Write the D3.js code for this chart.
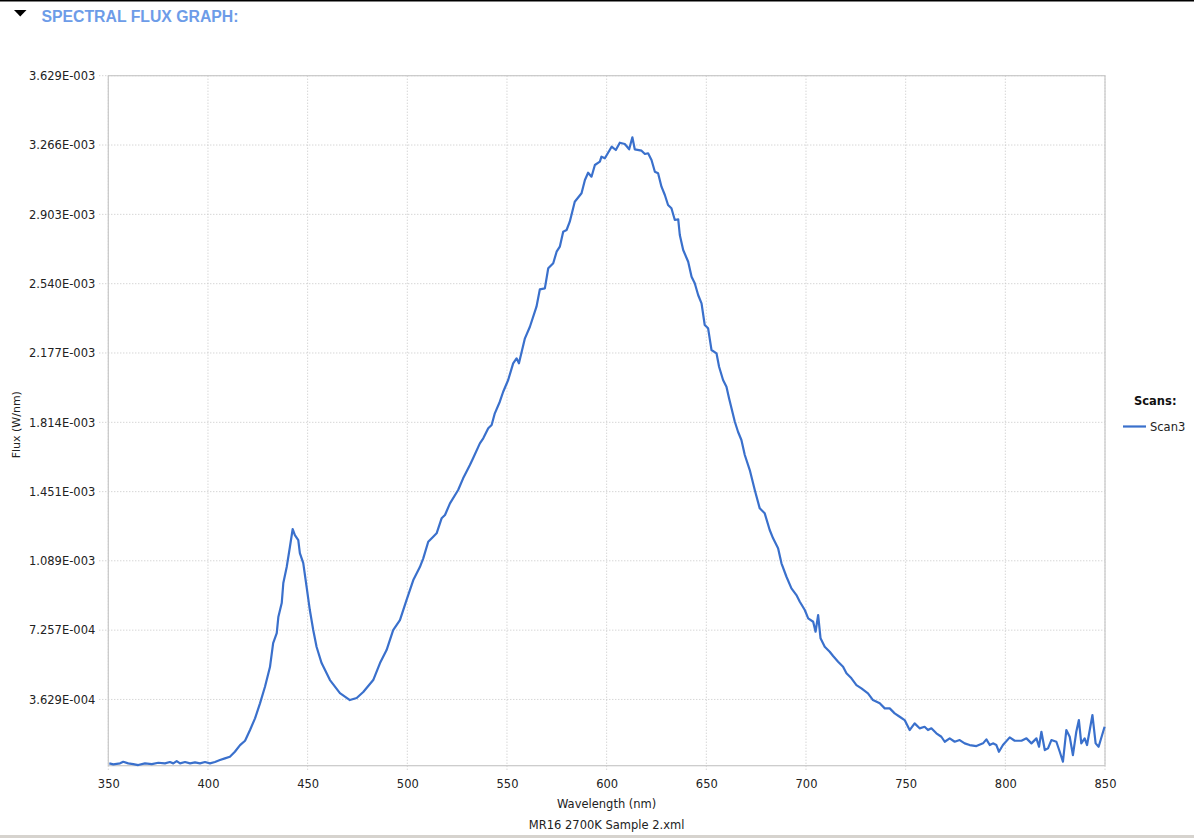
<!DOCTYPE html>
<html>
<head>
<meta charset="utf-8">
<script src="https://cdn.jsdelivr.net/npm/d3@7"></script>
<style>
  html, body { margin: 0; padding: 0; background: #fff; }
  svg { display: block; font-family: "DejaVu Sans", sans-serif; }
  .tick-label { font-size: 11px; fill: #222; }
</style>
</head>
<body>
<div id="chart"></div>
<script>
// Wavelength (nm) and flux (W/nm)
const wavelength = [
  350.5, 352.5, 355.9, 357.5, 360.0, 362.5, 365.0, 368.4, 371.8, 375.1,
  378.4, 380.9, 382.6, 384.3, 386.0, 388.5, 391.0, 393.5, 396.0, 398.5,
  401.0, 403.5, 406.0, 408.5, 411.0, 413.5, 416.1, 418.6, 421.1, 423.6,
  426.1, 428.6, 431.1, 432.7, 434.5, 435.3, 437.0, 437.8, 439.5, 441.1,
  442.5, 443.6, 445.3, 446.1, 447.8, 449.5, 451.1, 452.8, 454.5, 457.0,
  461.2, 466.2, 471.2, 474.6, 477.9, 482.9, 486.3, 489.6, 492.9, 496.3,
  499.6, 503.0, 506.3, 508.0, 510.5, 513.0, 514.7, 517.2, 518.9, 521.4,
  525.5, 528.0, 531.4, 533.0, 536.4, 538.1, 540.6, 542.3, 543.9, 546.4,
  548.1, 550.6, 553.1, 554.8, 556.0, 559.0, 561.5, 564.8, 566.5, 569.0,
  570.7, 573.2, 574.9, 576.5, 578.2, 579.9, 581.5, 584.0, 587.4, 589.1,
  590.7, 592.4, 594.1, 596.6, 597.4, 599.1, 602.5, 604.6, 606.6, 609.1,
  611.3, 612.9, 614.1, 617.5, 619.2, 620.8, 622.5, 624.2, 625.8, 627.5,
  629.2, 630.8, 632.5, 634.2, 635.9, 636.7, 638.4, 640.9, 642.6, 644.2,
  645.9, 647.6, 649.2, 650.9, 652.6, 655.1, 656.4, 658.4, 660.1, 661.4,
  664.3, 665.9, 667.6, 669.3, 671.8, 674.3, 676.8, 679.3, 681.8, 683.5,
  686.0, 687.7, 690.2, 692.7, 695.2, 696.9, 699.4, 701.1, 703.6, 704.8,
  706.1, 707.3, 709.4, 711.9, 713.6, 716.1, 718.6, 720.3, 722.8, 725.3,
  727.8, 731.1, 733.6, 737.0, 739.5, 742.0, 744.5, 747.0, 749.5, 752.0,
  754.5, 757.0, 759.5, 761.2, 762.9, 765.4, 767.9, 769.6, 772.1, 774.6,
  777.1, 779.6, 782.1, 785.5, 788.8, 790.5, 792.2, 793.8, 795.5, 796.8,
  798.8, 802.2, 804.7, 808.1, 810.6, 813.1, 815.6, 816.9, 818.1, 819.8,
  821.4, 823.1, 825.6, 827.3, 828.9, 830.6, 832.3, 833.9, 835.6, 836.9,
  838.1, 839.8, 841.0, 843.7, 845.3, 846.8, 849.8
];
const flux = [
  2.83e-5, 2.30e-5, 2.83e-5, 3.67e-5, 2.83e-5, 2.46e-5, 1.94e-5, 2.83e-5, 2.46e-5, 3.14e-5,
  2.83e-5, 3.51e-5, 2.83e-5, 4.03e-5, 2.83e-5, 3.51e-5, 2.83e-5, 3.35e-5, 2.83e-5, 3.51e-5,
  2.83e-5, 3.51e-5, 4.56e-5, 5.45e-5, 6.28e-5, 8.90e-5, 1.241e-4, 1.466e-4, 2.027e-4, 2.639e-4,
  3.425e-4, 4.294e-4, 5.326e-4, 6.583e-4, 7.106e-4, 7.944e-4, 8.677e-4, 9.725e-4, 1.0562e-3, 1.1610e-3,
  1.2552e-3, 1.2238e-3, 1.1976e-3, 1.1296e-3, 1.0772e-3, 9.515e-4, 8.311e-4, 7.263e-4, 6.373e-4, 5.535e-4,
  4.645e-4, 3.964e-4, 3.598e-4, 3.702e-4, 4.017e-4, 4.645e-4, 5.535e-4, 6.216e-4, 7.263e-4, 7.787e-4,
  8.834e-4, 9.882e-4, 1.0562e-3, 1.1018e-3, 1.1887e-3, 1.2149e-3, 1.2327e-3, 1.3113e-3, 1.3286e-3, 1.3898e-3,
  1.4595e-3, 1.5207e-3, 1.5904e-3, 1.6255e-3, 1.7040e-3, 1.7302e-3, 1.7826e-3, 1.7999e-3, 1.8611e-3, 1.9219e-3,
  1.9742e-3, 2.0355e-3, 2.1230e-3, 2.1491e-3, 2.1230e-3, 2.2539e-3, 2.3146e-3, 2.4194e-3, 2.5105e-3, 2.5157e-3,
  2.6205e-3, 2.6466e-3, 2.7074e-3, 2.7336e-3, 2.8121e-3, 2.8210e-3, 2.8645e-3, 2.9692e-3, 3.0132e-3, 3.0829e-3,
  3.1211e-3, 3.1001e-3, 3.1614e-3, 3.1787e-3, 3.2049e-3, 3.1965e-3, 3.2572e-3, 3.2399e-3, 3.2782e-3, 3.2714e-3,
  3.2436e-3, 3.3065e-3, 3.2436e-3, 3.2363e-3, 3.2190e-3, 3.2227e-3, 3.1876e-3, 3.1263e-3, 3.1179e-3, 3.0478e-3,
  3.0043e-3, 2.9519e-3, 2.9346e-3, 2.8734e-3, 2.8770e-3, 2.7948e-3, 2.7163e-3, 2.6550e-3, 2.5765e-3, 2.5419e-3,
  2.4806e-3, 2.4372e-3, 2.3235e-3, 2.3062e-3, 2.1926e-3, 2.1753e-3, 2.1052e-3, 2.0355e-3, 2.0004e-3, 1.9397e-3,
  1.8171e-3, 1.7648e-3, 1.7213e-3, 1.6428e-3, 1.5642e-3, 1.4595e-3, 1.3636e-3, 1.3375e-3, 1.2500e-3, 1.2065e-3,
  1.1542e-3, 1.0756e-3, 1.0054e-3, 9.447e-4, 9.096e-4, 8.745e-4, 8.311e-4, 7.876e-4, 7.698e-4, 7.174e-4,
  8.049e-4, 6.829e-4, 6.389e-4, 6.127e-4, 5.902e-4, 5.603e-4, 5.341e-4, 4.996e-4, 4.734e-4, 4.383e-4,
  4.210e-4, 3.948e-4, 3.598e-4, 3.425e-4, 3.163e-4, 3.163e-4, 2.901e-4, 2.723e-4, 2.550e-4, 2.027e-4,
  2.377e-4, 2.116e-4, 2.199e-4, 2.027e-4, 2.116e-4, 1.854e-4, 1.676e-4, 1.414e-4, 1.592e-4, 1.414e-4,
  1.503e-4, 1.330e-4, 1.241e-4, 1.189e-4, 1.330e-4, 1.540e-4, 1.241e-4, 1.330e-4, 1.241e-4, 8.90e-5,
  1.241e-4, 1.644e-4, 1.466e-4, 1.466e-4, 1.592e-4, 1.330e-4, 1.592e-4, 1.152e-4, 1.938e-4, 9.79e-5,
  1.068e-4, 1.503e-4, 1.414e-4, 8.90e-5, 3.67e-5, 2.027e-4, 1.676e-4, 7.17e-5, 1.938e-4, 2.550e-4,
  1.330e-4, 1.592e-4, 1.241e-4, 2.812e-4, 1.330e-4, 1.152e-4, 2.199e-4
];

// axis ticks
const xTicks = [350, 400, 450, 500, 550, 600, 650, 700, 750, 800, 850];
const yTicks = [3.629e-4, 7.257e-4, 1.089e-3, 1.451e-3, 1.814e-3, 2.177e-3, 2.540e-3, 2.903e-3, 3.266e-3, 3.629e-3];
const yTickLabels = ['3.629E-004', '7.257E-004', '1.089E-003', '1.451E-003', '1.814E-003',
                     '2.177E-003', '2.540E-003', '2.903E-003', '3.266E-003', '3.629E-003'];
const xDomain = [350, 850];
const yDomain = [1.6e-5, 3.629e-3];

const W = 1194, H = 838;
const margin = {top: 75.7, right: 89, bottom: 72.3, left: 108.3};
const width = W - margin.left - margin.right;
const height = H - margin.top - margin.bottom;

const root = d3.select('#chart').append('svg')
    .attr('width', W)
    .attr('height', H);

// Header bar
root.append('rect').attr('x', 0).attr('y', 0).attr('width', W).attr('height', 1.5).attr('fill', '#000');
root.append('path').attr('d', 'M14,10 L26.5,10 L20.25,16.5 Z').attr('fill', '#000');
root.append('text')
    .attr('x', 41.5)
    .attr('y', 21.5)
    .attr('textLength', 197)
    .attr('lengthAdjust', 'spacingAndGlyphs')
    .style('font-family', '"Liberation Sans", Arial, sans-serif')
    .style('font-weight', 'bold')
    .style('font-size', '16px')
    .attr('fill', '#6d9ce8')
    .text('SPECTRAL FLUX GRAPH:');

// Bottom strip
root.append('rect').attr('x', 0).attr('y', 835).attr('width', W).attr('height', 3).attr('fill', '#d6d3ce');

const svg = root.append('g')
    .attr('transform', `translate(${margin.left},${margin.top})`);

const x = d3.scaleLinear().domain(xDomain).range([0, width]);
const y = d3.scaleLinear().domain(yDomain).range([height, 0]);

// Grid (dotted) with ticks poking outside the plot
svg.append('g')
    .selectAll('line')
    .data(xTicks)
    .join('line')
    .attr('x1', d => x(d)).attr('x2', d => x(d))
    .attr('y1', 0).attr('y2', height + 4)
    .attr('stroke', '#c4c4c4')
    .attr('stroke-dasharray', '1,2');

svg.append('g')
    .selectAll('line')
    .data(yTicks)
    .join('line')
    .attr('x1', -9).attr('x2', width)
    .attr('y1', d => y(d)).attr('y2', d => y(d))
    .attr('stroke', '#c4c4c4')
    .attr('stroke-dasharray', '1,2');

// Plot frame
svg.append('rect')
    .attr('x', 0).attr('y', 0)
    .attr('width', width).attr('height', height)
    .attr('fill', 'none')
    .attr('stroke', '#c8c8c8')
    .attr('stroke-width', 1.2);

// Axis labels
const xAxis = d3.axisBottom(x).tickValues(xTicks).tickSize(0).tickPadding(14).tickFormat(d3.format('d'));
svg.append('g')
    .attr('transform', `translate(0,${height})`)
    .call(xAxis)
    .call(g => g.select('.domain').remove())
    .call(g => g.selectAll('text').attr('class', 'tick-label').attr('fill', '#222')
        .style('font-family', '"DejaVu Sans", sans-serif').style('font-size', '11.5px'));

const yAxis = d3.axisLeft(y).tickValues(yTicks).tickSize(0).tickPadding(13)
    .tickFormat((d, i) => yTickLabels[i]);
svg.append('g')
    .call(yAxis)
    .call(g => g.select('.domain').remove())
    .call(g => g.selectAll('text').attr('class', 'tick-label').attr('fill', '#222')
        .style('font-family', '"DejaVu Sans", sans-serif').style('font-size', '11.5px'));

// Titles
svg.append('text')
    .attr('x', width / 2)
    .attr('y', height + 42)
    .attr('text-anchor', 'middle')
    .style('font-size', '11.5px')
    .attr('fill', '#222')
    .text('Wavelength (nm)');

svg.append('text')
    .attr('x', width / 2)
    .attr('y', height + 63)
    .attr('text-anchor', 'middle')
    .style('font-size', '11.5px')
    .attr('fill', '#222')
    .text('MR16 2700K Sample 2.xml');

root.append('text')
    .attr('transform', `translate(20,${margin.top + height / 2 + 4}) rotate(-90)`)
    .attr('text-anchor', 'middle')
    .style('font-size', '11px')
    .attr('fill', '#222')
    .text('Flux (W/nm)');

// Spectrum line
const points = wavelength.map((w, i) => [w, flux[i]]);
const line = d3.line()
    .x(d => x(d[0]))
    .y(d => y(d[1]));

svg.append('path')
    .datum(points)
    .attr('d', line)
    .attr('fill', 'none')
    .attr('stroke', '#3a70cc')
    .attr('stroke-width', 2.2)
    .attr('stroke-linejoin', 'round');

// Legend
const legend = root.append('g').attr('transform', 'translate(1123,0)');
legend.append('text')
    .attr('x', 11)
    .attr('y', 405)
    .style('font-size', '11.5px')
    .style('font-weight', 'bold')
    .attr('fill', '#111')
    .text('Scans:');
legend.append('line')
    .attr('x1', 0).attr('x2', 23)
    .attr('y1', 426.5).attr('y2', 426.5)
    .attr('stroke', '#3a70cc')
    .attr('stroke-width', 2.2);
legend.append('text')
    .attr('x', 27)
    .attr('y', 431)
    .style('font-size', '11.5px')
    .attr('fill', '#222')
    .text('Scan3');
</script>
</body>
</html>
